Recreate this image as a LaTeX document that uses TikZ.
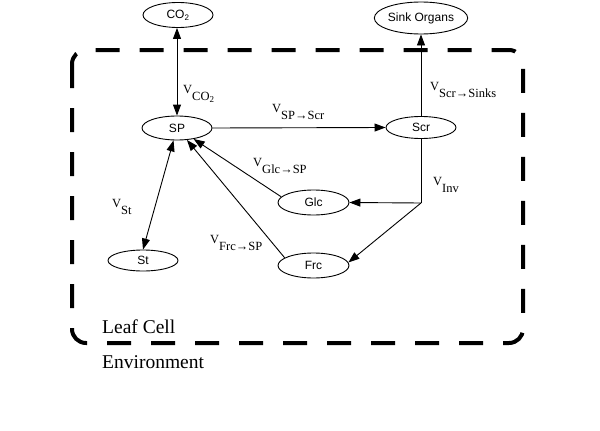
\documentclass[tikz,border=0pt]{standalone}
\usepackage{fontspec}
\setmainfont{Liberation Serif}
\newfontfamily\lsans{Liberation Sans}
\usetikzlibrary{arrows.meta,shapes.geometric}
\tikzset{
  pool/.style={ellipse, draw, line width=0.9pt, inner sep=0pt, minimum width=70pt, minimum height=24pt, font=\lsans\fontsize{12}{12}\selectfont},
  flow/.style={line width=0.9pt, -{Triangle[length=11pt,width=8pt]}},
  bflow/.style={line width=0.9pt, {Triangle[length=11pt,width=8pt]}-{Triangle[length=11pt,width=8pt]}},
  plain/.style={line width=0.9pt},
  rate/.style={anchor=north west, inner sep=0pt, font=\fontsize{12.5}{13}\selectfont},
  region/.style={anchor=base west, inner sep=0pt, font=\fontsize{19.5}{20}\selectfont},
  cellwall/.style={line width=4pt, dash pattern=on 24pt off 20pt, rounded corners=14pt}
}
\newcommand\vrate[1]{V\raisebox{-7pt}{#1}}
\begin{document}
\begin{tikzpicture}[x=1pt,y=-1pt]
\useasboundingbox (0,0) rectangle (600,431);
\draw[cellwall] (72,50) rectangle (523,343);
\node[region] (leaf) at (102,333) {Leaf Cell};
\node[region] (env) at (102,368) {Environment};

\node[pool, minimum width=70pt, minimum height=25pt] (co2) at (178,15) {CO\textsubscript{2}};
\node[pool, minimum width=82pt, minimum height=32pt] (sink) at (421,18) {Sink Organs};
\node[pool] (sp) at (177,128) {SP};
\node[pool, minimum height=22pt] (scr) at (421,127.5) {Scr};
\node[pool, minimum width=71pt, minimum height=25pt] (glc) at (313.5,202.5) {Glc};
\node[pool, minimum width=71pt, minimum height=25pt] (frc) at (313.5,265.5) {Frc};
\node[pool, minimum height=21pt] (st) at (143,260.5) {St};
\coordinate (br) at (421,203);

\draw[bflow] (co2.south -| sp.north) -- (sp.north);
\draw[flow] (sp.east) -- (scr.west);
\draw[flow] (scr.north) -- (sink.south);
\draw[plain] (scr.south) -- (br);
\draw[flow] (br) -- (glc.east);
\draw[flow] (br) -- (frc.5);
\draw[flow] (glc.170) -- (sp);
\draw[flow] (frc.165) -- (sp);
\draw[bflow] (st.north) -- (sp);

\node[rate] (vco2) at (183,85) {V\raisebox{-7pt}{CO\raisebox{-2.5pt}{\fontsize{9}{9}\selectfont 2}}};
\node[rate] (vsps) at (272,104) {\vrate{SP→Scr}};
\node[rate] (vsink) at (430,82) {\vrate{Scr→Sinks}};
\node[rate] (vglc) at (253,158) {\vrate{Glc→SP}};
\node[rate] (vfrc) at (210,235) {\vrate{Frc→SP}};
\node[rate] (vst) at (112,199) {\vrate{St}};
\node[rate] (vinv) at (433,177) {\vrate{Inv}};
\end{tikzpicture}
\end{document}
